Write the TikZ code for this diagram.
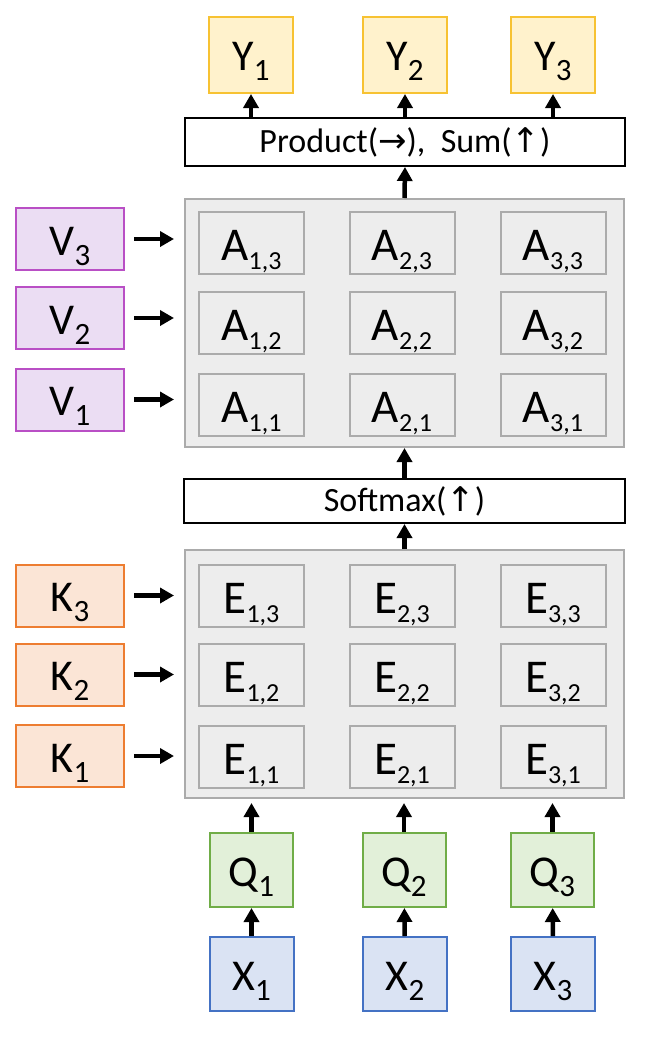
\documentclass[tikz,border=0pt]{standalone}
\usepackage{fontspec}
\setmainfont{Carlito}
\newfontfamily\arrowfont{DejaVu Sans}
\usetikzlibrary{arrows.meta}
\newcommand{\bigtxt}{\fontsize{44}{50}\selectfont}
\newcommand{\celltxt}{\fontsize{47}{52}\selectfont}
\newcommand{\midtxt}{\fontsize{34}{40}\selectfont}
\newcommand{\lab}[2]{\raisebox{-16pt}[0pt][0pt]{#1\raisebox{-10pt}{\fontsize{31}{31}\selectfont #2}}}
\newcommand{\clab}[2]{\raisebox{-17pt}[0pt][0pt]{#1\raisebox{-9pt}{\fontsize{26}{26}\selectfont #2}}}
\definecolor{yfill}{HTML}{FFF2CC}\definecolor{ydraw}{HTML}{F7C232}
\definecolor{vfill}{HTML}{EBDDF3}\definecolor{vdraw}{HTML}{B94FC5}
\definecolor{kfill}{HTML}{FBE5D6}\definecolor{kdraw}{HTML}{ED7D31}
\definecolor{qfill}{HTML}{E2F0D9}\definecolor{qdraw}{HTML}{70AD47}
\definecolor{xfill}{HTML}{DAE3F3}\definecolor{xdraw}{HTML}{4472C4}
\definecolor{gfill}{HTML}{EDEDED}\definecolor{gdraw}{HTML}{ABABAB}
\begin{document}
\begin{tikzpicture}[x=1pt,y=-1pt,
  basebox/.style={draw, line width=2pt, inner sep=0pt, font=\bigtxt},
  ybox/.style={basebox, fill=yfill, draw=ydraw, minimum width=84pt, minimum height=76pt},
  vbox/.style={basebox, fill=vfill, draw=vdraw, minimum width=108pt, minimum height=62pt},
  kbox/.style={basebox, fill=kfill, draw=kdraw, minimum width=108pt, minimum height=62pt},
  qbox/.style={basebox, fill=qfill, draw=qdraw, minimum width=83pt, minimum height=74pt},
  xbox/.style={basebox, fill=xfill, draw=xdraw, minimum width=84pt, minimum height=74pt},
  bigbox/.style={draw=gdraw, fill=gfill, line width=2pt, minimum width=439pt, minimum height=248pt, inner sep=0pt},
  cell/.style={basebox, font=\celltxt, fill=gfill, draw=gdraw, minimum width=105pt, minimum height=62pt},
  opbox/.style={draw, line width=2pt, fill=white, inner sep=0pt, font=\midtxt},
  arr/.style={line width=4.5pt, -{Triangle[length=14pt,width=15pt]}}
]
\useasboundingbox (0,0) rectangle (655,1049);
% outputs
\node[ybox] (Y1) at (251,55) {\lab{Y}{1}};
\node[ybox] (Y2) at (405,55) {\lab{Y}{2}};
\node[ybox] (Y3) at (553,55) {\lab{Y}{3}};
\node[opbox, minimum width=440pt, minimum height=48pt] (prod) at (405,142) {Product({\arrowfont →}),\ \ Sum({\arrowfont ↑})};
% attention block
\node[bigbox] (Abig) at (404.5,323) {};
\node[cell] (A13) at (251.5,243) {\clab{A}{1,3}};
\node[cell] (A23) at (402,243) {\clab{A}{2,3}};
\node[cell] (A33) at (553,243) {\clab{A}{3,3}};
\node[cell] (A12) at (251.5,323) {\clab{A}{1,2}};
\node[cell] (A22) at (402,323) {\clab{A}{2,2}};
\node[cell] (A32) at (553,323) {\clab{A}{3,2}};
\node[cell] (A11) at (251.5,405) {\clab{A}{1,1}};
\node[cell] (A21) at (402,405) {\clab{A}{2,1}};
\node[cell] (A31) at (553,405) {\clab{A}{3,1}};
\node[vbox] (V3) at (70,239) {\lab{V}{3}};
\node[vbox] (V2) at (70,318) {\lab{V}{2}};
\node[vbox] (V1) at (70,399.5) {\lab{V}{1}};
\node[opbox, minimum width=441pt, minimum height=44pt] (soft) at (404.5,501) {Softmax({\arrowfont ↑})};
% energy block
\node[bigbox] (Ebig) at (404.5,674) {};
\node[cell] (E13) at (251.5,596) {\clab{E}{1,3}};
\node[cell] (E23) at (402,596) {\clab{E}{2,3}};
\node[cell] (E33) at (553,596) {\clab{E}{3,3}};
\node[cell] (E12) at (251.5,675) {\clab{E}{1,2}};
\node[cell] (E22) at (402,675) {\clab{E}{2,2}};
\node[cell] (E32) at (553,675) {\clab{E}{3,2}};
\node[cell] (E11) at (251.5,757) {\clab{E}{1,1}};
\node[cell] (E21) at (402,757) {\clab{E}{2,1}};
\node[cell] (E31) at (553,757) {\clab{E}{3,1}};
\node[kbox] (K3) at (70,595.5) {\lab{K}{3}};
\node[kbox] (K2) at (70,674.5) {\lab{K}{2}};
\node[kbox] (K1) at (70,756) {\lab{K}{1}};
% queries and inputs
\node[qbox] (Q1) at (251.5,870) {\lab{Q}{1}};
\node[qbox] (Q2) at (404,870) {\lab{Q}{2}};
\node[qbox] (Q3) at (552.5,870) {\lab{Q}{3}};
\node[xbox] (X1) at (251.5,974) {\lab{X}{1}};
\node[xbox] (X2) at (405,974) {\lab{X}{2}};
\node[xbox] (X3) at (553,974) {\lab{X}{3}};
% connectors
\foreach \i in {1,2,3}{
  \draw[arr] (X\i) -- (Q\i);
  \draw[arr, shorten >=4pt] (Q\i.north) -- (Q\i.north |- Ebig.south);
  \draw[arr] (Y\i.south |- prod.north) -- (Y\i.south);
  \draw[arr, shorten <=9pt, shorten >=10pt] (V\i.east) -- (V\i.east -| Abig.west);
  \draw[arr, shorten <=9pt, shorten >=10pt] (K\i.east) -- (K\i.east -| Ebig.west);
}
\draw[arr] (Ebig.north) -- (soft.south);
\draw[arr] (soft.north) -- (Abig.south);
\draw[arr] (Abig.north) -- (prod.south);
\end{tikzpicture}
\end{document}
